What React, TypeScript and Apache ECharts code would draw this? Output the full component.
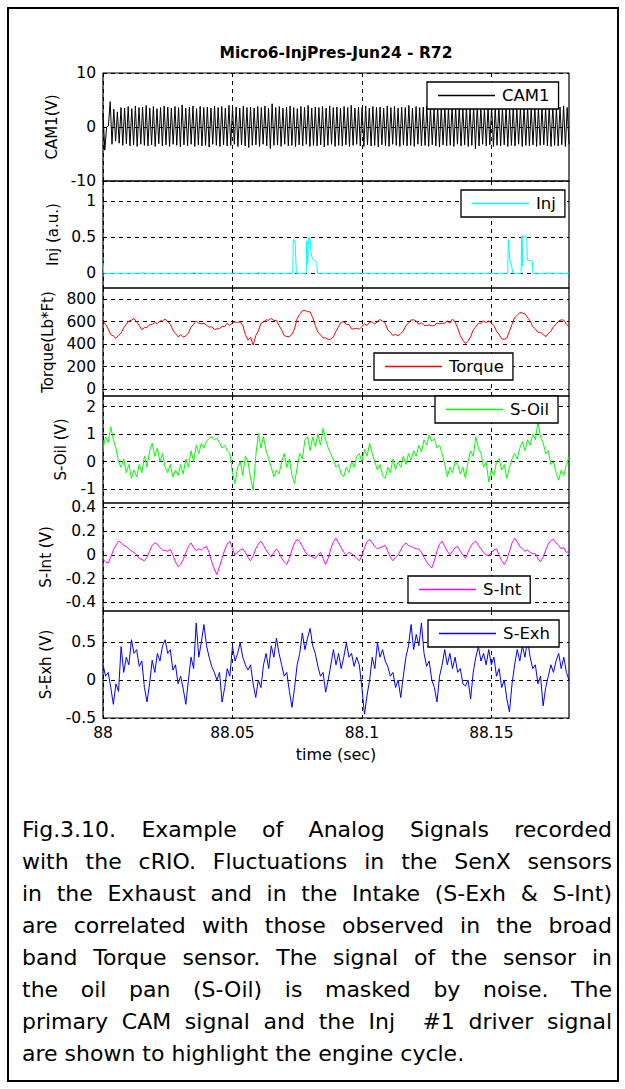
import React, { useEffect, useRef } from "react";
import * as echarts from "echarts";

const T0 = 88;
const T1 = 88.18;
const xTicks = [88, 88.05, 88.1, 88.15];

const cam1Ticks = [-10, 0, 10];
const injTicks = [0, 0.5, 1];
const torqueTicks = [0, 200, 400, 600, 800];
const oilTicks = [-1, 0, 1, 2];
const intTicks = [-0.4, -0.2, 0, 0.2, 0.4];
const exhTicks = [-0.5, 0, 0.5];

const cam1 = [
  2.5, -4.3, 0, 0.2, 4.7, -3.2, 3.3, -2.6, 2.8, -3.0,
  3.6, -3.4, 3.5, -3.1, 3.8, -3.5, 3.4, -3.3, 3.9, -3.6,
  3.6, -3.2, 3.7, -3.4, 4.0, -3.5, 3.5, -3.3, 3.8, -3.6,
  3.4, -3.1, 3.6, -3.5, 3.9, -3.3, 3.7, -3.6, 3.5, -3.2,
  3.8, -3.4, 3.6, -3.7, 4.1, -3.3, 3.5, -3.5, 3.7, -3.2,
  3.9, -3.6, 3.4, -3.3, 3.8, -3.5, 3.6, -3.4, 3.7, -3.7,
  3.5, -3.2, 3.9, -3.4, 3.6, -3.6, 3.8, -3.3, 3.5, -3.5,
  4.0, -3.4, 3.6, -3.2, 3.7, -3.6, 3.5, -3.3, 3.9, -3.5,
  3.6, -3.8, 3.7, -3.4, 3.5, -3.3, 3.8, -3.6, 3.6, -3.2,
  3.9, -3.5, 3.5, -4.0, 4.3, -3.4, 3.6, -3.3, 3.8, -3.6,
  3.5, -3.2, 3.7, -3.5, 3.9, -3.4, 3.6, -3.6, 3.4, -3.3,
  3.8, -3.5, 3.6, -3.2, 4.0, -3.6, 3.5, -3.4, 3.7, -3.5,
  3.6, -3.3, 3.8, -3.7, 3.5, -3.4, 3.9, -3.2, 3.6, -3.6,
  3.7, -3.4, 3.5, -3.5, 3.8, -3.3, 3.6, -3.6, 4.0, -3.4,
  3.5, -3.2, 3.7, -3.5, 3.6, -3.6, 3.9, -3.3, 3.5, -3.5,
  3.8, -3.4, 3.6, -3.7, 3.7, -3.3, 3.5, -3.5, 3.9, -3.6,
  3.6, -3.2, 3.8, -3.4, 3.5, -3.6, 3.7, -3.3, 3.6, -3.5,
  4.0, -3.4, 3.5, -3.6, 3.8, -3.2, 3.6, -3.5, 3.7, -3.4,
  3.9, -3.6, 3.6, -3.3, 3.5, -3.5, 3.8, -3.7, 3.6, -3.3,
  3.7, -3.5, 3.5, -3.4, 3.9, -3.6, 3.6, -3.2, 3.8, -3.5,
  3.5, -3.3, 3.7, -3.6, 3.6, -3.4, 3.8, -4.0, 3.9, -3.5,
  3.6, -3.2, 3.5, -3.5, 3.7, -3.3, 3.8, -3.6, 3.6, -3.4,
  3.9, -3.5, 3.5, -3.3, 3.7, -3.6, 3.6, -3.4, 3.8, -3.5,
  3.5, -3.2, 3.6, -3.6, 3.8, -3.4, 3.7, -3.5, 3.5, -3.3,
  3.9, -3.6, 3.6, -3.4, 3.7, -3.3, 3.5, -3.5, 3.8, -3.6,
  4.0, -3.4, 3.6, -3.5, 3.7, -3.3, 3.9, -3.6, 3.6, -3.2,
];

const injTime = [
  88.0, 88.0003, 88.015, 88.0152, 88.0154, 88.035, 88.0352, 88.0354, 88.06, 88.0602,
  88.0604, 88.0733, 88.0735, 88.0742, 88.0747, 88.0785, 88.0787, 88.0791, 88.0794, 88.08,
  88.0803, 88.0809, 88.0826, 88.0828, 88.098, 88.0982, 88.0984, 88.125, 88.1252, 88.1254,
  88.1563, 88.1566, 88.1571, 88.1576, 88.1584, 88.1615, 88.1617, 88.162, 88.1622, 88.1637,
  88.1639, 88.1658, 88.1661, 88.172, 88.1722, 88.1724, 88.18,
];
const injValue = [
  0.15, 0, 0, 0.015, 0, 0, 0.015, 0, 0, 0.015,
  0, 0, 0.47, 0.45, 0, 0, 0.45, 0.12, 0.5, 0.48,
  0.3, 0.2, 0.15, 0, 0, 0.015, 0, 0, 0.015, 0,
  0, 0.47, 0.2, 0.13, 0, 0, 0.52, 0.1, 0.52, 0.5,
  0.18, 0.17, 0, 0, 0.015, 0, 0,
];

const torque = [
  600, 575, 535, 485, 472, 452, 478, 498, 545, 575,
  605, 612, 628, 596, 565, 528, 545, 550, 570, 576,
  592, 582, 605, 606, 622, 600, 575, 525, 495, 465,
  484, 462, 474, 498, 552, 575, 605, 585, 580, 586,
  568, 550, 555, 530, 535, 538, 558, 556, 585, 565,
  590, 596, 592, 598, 565, 485, 435, 462, 392, 475,
  515, 585, 596, 615, 612, 628, 608, 612, 565, 525,
  475, 468, 466, 488, 535, 625, 665, 695, 698, 688,
  685, 636, 565, 505, 485, 455, 455, 440, 446, 465,
  515, 555, 595, 598, 575, 575, 535, 535, 540, 532,
  555, 580, 565, 595, 596, 578, 600, 618, 605, 585,
  525, 505, 476, 488, 472, 495, 515, 565, 585, 615,
  615, 605, 575, 590, 565, 565, 570, 562, 565, 585,
  580, 585, 586, 605, 585, 622, 595, 545, 475, 435,
  405, 425, 465, 525, 555, 585, 585, 605, 590, 605,
  585, 565, 515, 485, 446, 442, 456, 515, 575, 635,
  655, 680, 675, 668, 635, 605, 555, 535, 505, 505,
  485, 466, 495, 515, 555, 575, 605, 615, 612, 575,
  555,
];

const sOil = [
  0.49, 0.9, 0.7, 1.27, 0.8, 0.5, 0.0, -0.2, 0.1, -0.4,
  -0.1, -0.6, -0.3, -0.55, -0.1, -0.4, 0.2, -0.2, 0.4, 0.67,
  0.2, 0.5, 0.0, 0.3, -0.2, -0.4, -0.1, -0.55, -0.3, -0.5,
  -0.1, -0.45, 0.1, -0.2, 0.4, 0.0, 0.6, 0.3, 0.67, 0.5,
  0.75, 0.85, 0.91, 0.8, 0.85, 0.7, 0.5, 0.6, 0.4, 0.3,
  -0.4, -0.79, -0.2, 0.0, -0.5, 0.2, 0.0, -0.6, -1.03, 0.2,
  1.03, 0.5, 0.91, 0.4, 0.1, -0.2, -0.55, -0.3, -0.45, 0.0,
  0.3, -0.2, 0.1, -0.5, -0.79, -0.2, 0.3, 0.1, 0.79, 0.91,
  0.4, 0.9, 0.55, 1.0, 0.6, 1.21, 0.8, 0.5, 0.3, 0.06,
  -0.2, -0.1, -0.45, -0.55, -0.2, -0.4, 0.0, -0.2, 0.2, 0.3,
  0.0, 0.45, 0.2, 0.67, 0.3, 0.0, -0.3, -0.1, -0.5, -0.61,
  -0.2, -0.4, 0.1, -0.3, 0.0, -0.2, 0.2, -0.1, 0.3, 0.05,
  0.4, 0.2, 0.6, 0.35, 0.8, 0.6, 0.97, 0.75, 0.85, 0.5,
  0.6, 0.3, -0.1, -0.55, -0.2, -0.4, 0.0, -0.1, -0.45, -0.2,
  -0.6, 0.0, 0.4, 0.2, 0.91, 0.5, 0.3, -0.2, 0.0, -0.73,
  -0.3, -0.5, 0.0, 0.12, -0.3, -0.1, -0.6, -0.2, 0.1, 0.3,
  0.1, 0.5, 0.73, 0.4, 0.8, 0.6, 1.0, 0.8, 1.45, 0.9,
  0.7, 0.3, 0.4, -0.1, 0.0, -0.4, -0.67, -0.3, -0.5, -0.1,
  0.18,
];

const sInt = [
  -0.04, -0.06, -0.07, -0.02, 0.04, 0.08, 0.115, 0.1, 0.08, 0.07,
  0.05, 0.03, 0.02, 0.0, -0.03, -0.04, -0.05, -0.02, 0.03, 0.08,
  0.1, 0.09, 0.06, 0.04, 0.035, 0.03, 0.045, 0.0, -0.06, -0.1,
  -0.08, -0.04, 0.02, 0.07, 0.1, 0.06, 0.035, 0.05, 0.04, 0.06,
  0.07, 0.02, -0.06, -0.12, -0.166, -0.1, -0.03, 0.04, 0.09, 0.115,
  0.05, 0.0, 0.02, 0.04, 0.05, 0.02, -0.02, -0.05, -0.01, 0.05,
  0.09, 0.115, 0.08, 0.04, 0.01, -0.02, 0.02, 0.05, 0.02, -0.03,
  -0.06, -0.08, -0.03, 0.04, 0.1, 0.13, 0.11, 0.07, 0.03, 0.0,
  -0.01, -0.02, -0.03, 0.0, 0.02, -0.03, -0.08, -0.03, 0.05, 0.11,
  0.14, 0.1, 0.06, 0.02, 0.0, 0.02, 0.01, -0.01, -0.03, -0.05,
  -0.01, 0.06, 0.11, 0.13, 0.1, 0.07, 0.05, 0.06, 0.07, 0.08,
  0.03, -0.02, -0.05, -0.02, 0.0, 0.04, 0.08, 0.1, 0.08, 0.07,
  0.06, 0.05, 0.05, 0.02, -0.02, -0.06, -0.09, -0.11, -0.05, 0.03,
  0.09, 0.115, 0.07, 0.03, 0.0, 0.03, 0.06, 0.07, 0.03, 0.0,
  -0.03, 0.02, 0.07, 0.1, 0.115, 0.08, 0.05, 0.02, 0.0, -0.01,
  0.02, 0.04, 0.05, 0.0, -0.05, -0.08, -0.04, 0.03, 0.1, 0.14,
  0.11, 0.07, 0.05, 0.03, 0.04, 0.02, 0.01, 0.01, -0.03, -0.06,
  -0.02, 0.04, 0.09, 0.12, 0.13, 0.1, 0.08, 0.05, 0.06, 0.02,
  0.03,
];

const sExh = [
  0.2, 0.05, 0.1, -0.1, -0.32, -0.05, -0.15, 0.44, 0.1, 0.3,
  0.2, 0.53, 0.35, 0.4, 0.18, 0.25, -0.1, -0.29, -0.05, 0.26,
  0.1, 0.35, 0.25, 0.45, 0.53, 0.35, 0.4, 0.13, 0.2, -0.05,
  0.05, -0.12, -0.32, 0.0, 0.3, 0.15, 0.75, 0.3, 0.5, 0.73,
  0.45, 0.3, 0.18, 0.1, 0.0, 0.1, -0.29, -0.1, 0.15, 0.05,
  0.44, 0.25, 0.35, 0.49, 0.3, 0.2, 0.13, 0.2, -0.05, -0.23,
  0.0, -0.1, 0.2, 0.35, 0.15, 0.45, 0.3, 0.55, 0.35, 0.2,
  0.05, 0.1, -0.15, -0.36, -0.1, 0.2, 0.35, 0.62, 0.4, 0.55,
  0.68, 0.45, 0.35, 0.18, 0.05, 0.1, -0.16, 0.0, 0.2, 0.4,
  0.2, 0.35, 0.15, 0.3, 0.49, 0.3, 0.35, 0.18, 0.3, 0.2,
  -0.1, -0.45, -0.2, 0.0, 0.3, 0.15, 0.49, 0.3, 0.4, 0.25,
  0.18, 0.05, 0.1, -0.1, 0.0, -0.23, 0.05, 0.3, 0.45, 0.73,
  0.4, 0.6, 0.45, 0.75, 0.35, 0.18, 0.25, 0.0, -0.1, -0.29,
  0.05, 0.2, 0.4, 0.2, 0.35, 0.15, 0.3, 0.1, 0.15, -0.05,
  -0.08, 0.0, -0.25, 0.1, 0.3, 0.44, 0.25, 0.35, 0.2, 0.4,
  0.2, 0.3, 0.05, 0.15, -0.1, 0.0, -0.25, -0.42, -0.05, 0.2,
  0.4, 0.25, 0.45, 0.3, 0.53, 0.3, 0.15, 0.2, -0.05, 0.05,
  -0.34, -0.1, 0.05, 0.2, 0.1, 0.25, 0.35, 0.15, 0.3, 0.1,
  0.0,
];

const captionLines = [
  "Fig.3.10. Example of Analog Signals recorded",
  "with the cRIO. Fluctuations in the SenX sensors",
  "in the Exhaust and in the Intake (S-Exh & S-Int)",
  "are correlated with those observed in the broad",
  "band Torque sensor. The signal of the sensor in",
  "the oil pan (S-Oil) is masked by noise. The",
  "primary CAM signal and the Inj\u00a0 #1 driver signal",
  "are shown to highlight the engine cycle.",
];

const FONT = '"DejaVu Sans", sans-serif';

const uniform = (vals: number[]) =>
  vals.map((v, i) => [T0 + (i * (T1 - T0)) / (vals.length - 1), v]);

const panels = [
  { name: "CAM1", axisName: "CAM1(V)", color: "#000000", top: 73, height: 108, min: -10, max: 10, ticks: cam1Ticks, gap: 43, lg: [427, 82], data: uniform(cam1) },
  { name: "Inj", axisName: "Inj (a.u.)", color: "#00FFFF", top: 181, height: 107, min: -0.204, max: 1.282, ticks: injTicks, gap: 43, lg: [461, 190], data: injTime.map((t, i) => [t, injValue[i]]) },
  { name: "Torque", axisName: "Torque(Lb*Ft)", color: "#FF0000", top: 288, height: 108, min: -59, max: 897, ticks: torqueTicks, gap: 48, lg: [374, 353], data: uniform(torque) },
  { name: "S-Oil", axisName: "S-Oil (V)", color: "#00FF00", top: 396, height: 107, min: -1.5, max: 2.39, ticks: oilTicks, gap: 35, lg: [435, 396], data: uniform(sOil) },
  { name: "S-Int", axisName: "S-Int (V)", color: "#FF00FF", top: 503, height: 108, min: -0.473, max: 0.436, ticks: intTicks, gap: 50, lg: [408, 576], data: uniform(sInt) },
  { name: "S-Exh", axisName: "S-Exh (V)", color: "#0000FF", top: 611, height: 107, min: -0.5, max: 0.908, ticks: exhTicks, gap: 50, lg: [428, 620], data: uniform(sExh) },
];

const fmt = (v: number) => String(parseFloat(Number(v).toFixed(3)));

const dashed = { color: "#000", type: [4, 4] as any, width: 1 };

const option: any = {
  animation: false,
  backgroundColor: "#fff",
  title: {
    text: "Micro6-InjPres-Jun24 - R72",
    left: 336,
    top: 45,
    textAlign: "center",
    padding: 0,
    textStyle: { fontFamily: FONT, fontSize: 15.5, fontWeight: "bold", color: "#000" },
  },
  grid: panels.map((p) => ({
    left: 103,
    width: 466,
    top: p.top,
    height: p.height,
    show: true,
    borderColor: "#000",
    borderWidth: 1.2,
    backgroundColor: "transparent",
    containLabel: false,
    outerBoundsMode: "none",
  })),
  xAxis: panels.map((p, k) => ({
    type: "value",
    gridIndex: k,
    min: T0,
    max: T1,
    interval: 0.05,
    axisLine: { show: false },
    axisTick: { show: false, customValues: xTicks },
    axisLabel: {
      show: k === panels.length - 1,
      customValues: xTicks,
      formatter: fmt,
      color: "#000",
      fontFamily: FONT,
      fontSize: 15.5,
      margin: 7,
    },
    splitLine: { show: true, lineStyle: dashed },
    name: k === panels.length - 1 ? "time (sec)" : "",
    nameLocation: "middle",
    nameGap: 28,
    nameTextStyle: { color: "#000", fontFamily: FONT, fontSize: 16 },
  })),
  yAxis: panels.map((p, k) => ({
    type: "value",
    gridIndex: k,
    min: p.min,
    max: p.max,
    axisLine: { show: false },
    axisTick: { show: false, customValues: p.ticks },
    axisLabel: {
      customValues: p.ticks,
      formatter: fmt,
      color: "#000",
      fontFamily: FONT,
      fontSize: 15.5,
      margin: 7,
    },
    splitLine: { show: true, lineStyle: dashed },
    name: p.axisName,
    nameLocation: "middle",
    nameRotate: 90,
    nameGap: p.gap,
    nameTextStyle: { color: "#000", fontFamily: FONT, fontSize: 15 },
  })),
  legend: panels.map((p) => ({
    data: [p.name],
    left: p.lg[0],
    top: p.lg[1],
    orient: "horizontal",
    padding: [5, 9, 5, 11],
    icon: "rect",
    itemWidth: 57,
    itemHeight: 1.3,
    borderColor: "#000",
    borderWidth: 1.3,
    borderRadius: 0,
    backgroundColor: "#fff",
    selectedMode: false,
    textStyle: { color: "#000", fontFamily: FONT, fontSize: 16.5, padding: [0, 0, 0, 2] },
  })),
  series: panels.map((p, k) => ({
    name: p.name,
    type: "line",
    xAxisIndex: k,
    yAxisIndex: k,
    data: p.data,
    symbol: "none",
    showSymbol: false,
    color: p.color,
    itemStyle: { color: p.color },
    lineStyle: { color: p.color, width: 1 },
    clip: true,
  })),
  graphic: [
    {
      type: "rect",
      shape: { x: 8, y: 8, width: 610, height: 1073 },
      style: { fill: "none", stroke: "#000", lineWidth: 2 },
      silent: true,
    },
  ],
};

export default function App() {
  const ref = useRef<HTMLDivElement>(null);
  useEffect(() => {
    const chart = echarts.init(ref.current!, undefined, { renderer: "svg", width: 625, height: 1089 });
    chart.setOption(option);
    return () => chart.dispose();
  }, []);
  const n = captionLines.length;
  return (
    <div style={{ position: "absolute", left: 0, top: 0, width: 625, height: 1089, background: "#fff" }}>
      <div ref={ref} style={{ position: "absolute", left: 0, top: 0, width: 625, height: 1089 }} />
      <div
        style={{
          position: "absolute",
          left: 22,
          top: 814,
          width: 590,
          fontFamily: FONT,
          fontSize: 22,
          lineHeight: "32px",
          color: "#000",
        }}
      >
        {captionLines.map((l, i) => (
          <div
            key={i}
            style={{
              textAlign: i < n - 1 ? "justify" : "left",
              textAlignLast: i < n - 1 ? "justify" : "left",
            } as any}
          >
            {l}
          </div>
        ))}
      </div>
    </div>
  );
}
